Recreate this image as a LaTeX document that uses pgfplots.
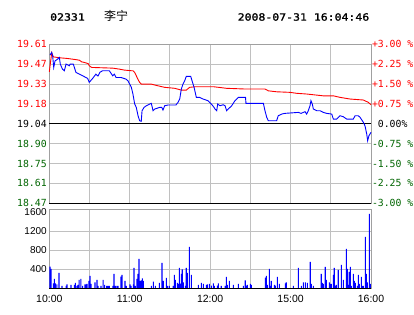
\documentclass[border=0pt]{standalone}
\usepackage{fontspec}
\usepackage{pgfplots}
\pgfplotsset{compat=1.18}
\setmainfont{Liberation Sans}
\newfontfamily\monofont{DejaVu Sans Mono}
\newfontfamily\headfont[FakeStretch=1.15,FakeBold=1.5]{DejaVu Sans Mono}
\newfontfamily\cjk{Noto Sans CJK SC}
\definecolor{upred}{RGB}{255,0,0}
\definecolor{dngreen}{RGB}{0,100,0}
\definecolor{gridgray}{RGB}{192,192,192}
\definecolor{framegray}{RGB}{160,160,160}
\definecolor{lineblue}{RGB}{0,0,255}
\begin{document}
\begin{tikzpicture}
\path[use as bounding box] (0,0) rectangle (414pt,-314pt);
\node[anchor=west,inner sep=0pt,font=\headfont\fontsize{10}{12}\selectfont] at (50pt,-17pt) {02331};
\node[anchor=west,inner sep=0pt,font=\cjk\fontsize{12}{14}\selectfont] at (104pt,-15.5pt) {李宁};
\node[anchor=west,inner sep=0pt,font=\headfont\fontsize{10}{12}\selectfont] at (237.5pt,-17pt) {2008-07-31 16:04:46};

% ---------------- price panel ----------------
\begin{axis}[
  at={(49.3pt,-44.3pt)}, anchor=north west,
  scale only axis, width=321.7pt, height=159pt,
  xmin=0, xmax=240, ymin=18.4688, ymax=19.6112,
  clip=false,
  axis line style={draw=framegray, line width=0.9pt},
  major tick length=0pt,
  xtick={30,60,90,120,150,180,210}, xticklabels={,,,,,,,},
  xticklabel style={text opacity=0},
  ytick={18.4688,18.6116,18.7544,18.8972,19.04,19.1828,19.3256,19.4684,19.6112},
  yticklabels={{\color{dngreen}18.47},{\color{dngreen}18.61},{\color{dngreen}18.75},{\color{dngreen}18.90},{\color{black}19.04},{\color{upred}19.18},{\color{upred}19.33},{\color{upred}19.47},{\color{upred}19.61}},
  yticklabel style={font=\monofont\fontsize{9.8}{10}\selectfont, inner sep=0pt, anchor=east, xshift=-2.4pt},
  grid=major, grid style={draw=gridgray, line width=0.9pt},
]
\addplot[black, line width=1pt] coordinates {(0,19.04) (240,19.04)};
\addplot[black, line width=1pt] coordinates {(0,18.4688) (240,18.4688)};
% average price
\addplot[upred, line width=0.9pt] coordinates {
(0,19.414) (1.8,19.550) (3.0,19.521) (8.0,19.514) (13.0,19.510) (19.2,19.502) (22.4,19.497) (24.2,19.485) (26.1,19.481) (29.1,19.472) (29.8,19.457) (31.6,19.445) (47.3,19.440) (52.2,19.433) (56.0,19.426) (61.7,19.421) (62.4,19.421) (63.7,19.409) (64.9,19.385) (66.4,19.354) (67.4,19.338) (68.6,19.325) (76.1,19.325) (81.1,19.313) (86.1,19.302) (93.6,19.295) (98.5,19.282) (102.2,19.282) (104.7,19.302) (108.5,19.306) (122.9,19.306) (132.3,19.295) (146.0,19.290) (160.9,19.290) (163.4,19.277) (169.6,19.270) (179.6,19.266) (184.6,19.259) (192.0,19.254) (204.4,19.241) (211.9,19.241) (216.9,19.230) (224.4,19.218) (234.3,19.211) (238.0,19.194) (240,19.177)};
% price
\addplot[lineblue, line width=0.9pt] coordinates {
(0.5,19.533) (1.8,19.553) (2.5,19.528) (3.3,19.445) (4.3,19.492) (5.7,19.501) (7.5,19.517) (8.2,19.469) (9.8,19.433) (11.2,19.421) (12.5,19.469) (14.9,19.457) (15.6,19.469) (17.9,19.469) (19.9,19.409) (24.9,19.385) (28.6,19.366) (29.8,19.338) (31.9,19.361) (34.8,19.397) (36.3,19.383) (37.8,19.411) (39.8,19.421) (44.8,19.421) (47.3,19.385) (48.5,19.397) (49.8,19.373) (53.5,19.373) (57.2,19.361) (58.7,19.349) (61.2,19.302) (62.4,19.254) (63.7,19.182) (64.9,19.158) (66.2,19.098) (67.4,19.062) (68.6,19.058) (69.2,19.134) (70.7,19.158) (72.4,19.170) (74.9,19.182) (76.1,19.187) (77.4,19.134) (78.6,19.146) (82.4,19.158) (83.9,19.158) (84.8,19.139) (86.1,19.170) (88.6,19.175) (94.5,19.175) (96.0,19.194) (97.3,19.218) (98.5,19.290) (99.7,19.325) (101.0,19.349) (102.2,19.381) (105.5,19.381) (106.5,19.349) (108.0,19.302) (109.7,19.230) (112.2,19.230) (114.7,19.218) (118.4,19.206) (120.9,19.182) (122.9,19.158) (123.6,19.146) (124.9,19.134) (125.6,19.182) (127.3,19.170) (129.8,19.177) (131.1,19.170) (132.3,19.134) (133.5,19.146) (136.1,19.170) (138.5,19.206) (141.0,19.230) (146.4,19.230) (146.7,19.187) (159.7,19.187) (160.9,19.134) (162.2,19.087) (163.4,19.062) (169.6,19.062) (170.8,19.098) (173.4,19.110) (175.8,19.115) (185.8,19.122) (187.8,19.115) (190.8,19.127) (192.0,19.110) (193.2,19.134) (194.5,19.170) (195.2,19.206) (196.2,19.182) (197.0,19.146) (199.5,19.134) (202.0,19.134) (204.4,19.122) (206.9,19.115) (210.7,19.110) (211.9,19.074) (214.4,19.074) (216.9,19.098) (219.3,19.091) (221.9,19.074) (226.8,19.074) (228.1,19.098) (230.5,19.098) (231.8,19.087) (234.3,19.051) (235.5,19.026) (236.8,18.967) (237.5,18.919) (238.5,18.955) (240,18.979)};
\end{axis}

% right-hand percent labels
\begin{axis}[
  at={(49.3pt,-44.3pt)}, anchor=north west,
  scale only axis, width=321.7pt, height=159pt,
  xmin=0, xmax=240, ymin=18.4688, ymax=19.6112,
  axis line style={draw=none},
  major tick length=0pt,
  xtick=\empty,
  yticklabel pos=right,
  ytick={18.4688,18.6116,18.7544,18.8972,19.04,19.1828,19.3256,19.4684,19.6112},
  yticklabels={{\color{dngreen}-3.00 \%},{\color{dngreen}-2.25 \%},{\color{dngreen}-1.50 \%},{\color{dngreen}-0.75 \%},{\color{black}\hphantom{+}0.00\%},{\color{upred}+0.75 \%},{\color{upred}+1.50 \%},{\color{upred}+2.25 \%},{\color{upred}+3.00 \%}},
  yticklabel style={font=\monofont\fontsize{9.8}{10}\selectfont, inner sep=0pt, anchor=west, xshift=0.8pt},
]
\addplot[draw=none] coordinates {(0,19.04)};
\end{axis}

% ---------------- volume panel ----------------
\begin{axis}[
  at={(49.3pt,-209.5pt)}, anchor=north west,
  scale only axis, width=321.7pt, height=78.8pt,
  xmin=0, xmax=240, ymin=0, ymax=1656,
  clip=false,
  axis line style={draw=framegray, line width=0.9pt},
  major tick length=0pt, minor tick length=0pt,
  xtick={0,60,120,180,240}, xticklabels={10:00,11:00,12:00,15:00,16:00},
  minor xtick={30,90,150,210},
  xticklabel style={font=\fontsize{10.5}{12}\selectfont, inner sep=0pt, anchor=north, yshift=-6.5pt},
  ytick={400,800,1200}, yticklabels={400,800,1200},
  extra y ticks={1600}, extra y tick labels={1600}, extra y tick style={grid=none},
  yticklabel style={font=\fontsize{10}{12}\selectfont, inner sep=0pt, anchor=east, xshift=-2.4pt},
  xmajorgrids, xminorgrids, ymajorgrids,
  grid style={draw=gridgray, line width=0.9pt},
  minor grid style={draw=gridgray, line width=0.9pt},
]
\addplot[ybar, bar width=1.1pt, bar shift=0pt, fill=lineblue, draw=none] coordinates {
(0.5,456) (1.3,407) (3.0,105) (3.8,197) (4.5,105) (5.7,84) (7.2,323) (9.5,49) (12.5,49) (13.2,84) (16.2,70) (18.7,70) (19.4,112) (20.7,49) (21.4,70) (22.2,175) (23.6,197) (24.9,49) (26.6,84) (27.4,84) (28.1,91) (29.6,154) (30.4,260) (31.1,91) (34.1,126) (35.6,175) (36.3,49) (38.6,49) (40.1,175) (41.3,70) (42.8,49) (43.8,49) (44.8,49) (47.5,49) (48.3,302) (49.3,49) (50.5,49) (51.3,49) (53.5,246) (54.2,281) (56.5,154) (57.5,49) (60.2,84) (61.0,49) (62.7,84) (63.2,428) (64.2,49) (65.4,197) (66.2,302) (66.9,618) (67.7,154) (68.7,168) (69.4,211) (70.1,154) (76.1,49) (77.6,140) (79.1,49) (82.1,112) (84.1,534) (85.1,154) (87.3,218) (88.1,49) (89.5,49) (92.5,49) (93.3,281) (94.0,175) (95.5,112) (96.3,91) (97.0,428) (97.8,98) (98.5,302) (99.2,400) (100.0,126) (101.5,49) (102.2,428) (103.0,323) (104.5,870) (106.0,281) (111.2,70) (113.4,112) (114.9,91) (117.2,70) (117.9,84) (119.4,91)
(120.9,56) (122.4,105) (123.1,49) (125.4,56) (126.1,105) (128.3,49) (131.3,49) (132.1,239) (132.8,70) (134.3,154) (137.3,70) (141.0,91) (144.8,49) (146.2,168) (147.0,49) (147.7,70) (150.0,91) (150.7,70) (161.2,225) (161.9,260) (162.7,70) (164.2,407) (164.9,49) (165.6,154) (167.9,70) (168.6,56) (170.1,239) (171.6,91) (176.1,105) (176.8,126) (182.1,49) (185.8,428) (188.0,49) (189.5,126) (191.0,126) (192.5,112) (194.7,555) (195.5,91) (197.0,49) (202.9,302) (203.7,112) (204.4,91) (205.9,449) (206.7,175) (208.9,126) (209.7,91) (210.4,91) (211.9,281) (212.6,428) (213.4,49) (214.1,70) (215.6,386) (217.9,491) (219.4,175) (221.6,828) (222.3,407) (223.1,70) (223.8,344) (224.6,449) (225.3,49) (226.8,302) (227.6,154) (228.3,112) (229.8,49) (230.6,281) (231.3,91) (232.8,239) (233.5,49) (234.3,49) (235.8,1081) (236.5,302) (237.3,126) (238.8,1565) (239.5,91)};
\addplot[black, line width=1pt] coordinates {(0,0) (240,0)};
\end{axis}
\end{tikzpicture}
\end{document}
